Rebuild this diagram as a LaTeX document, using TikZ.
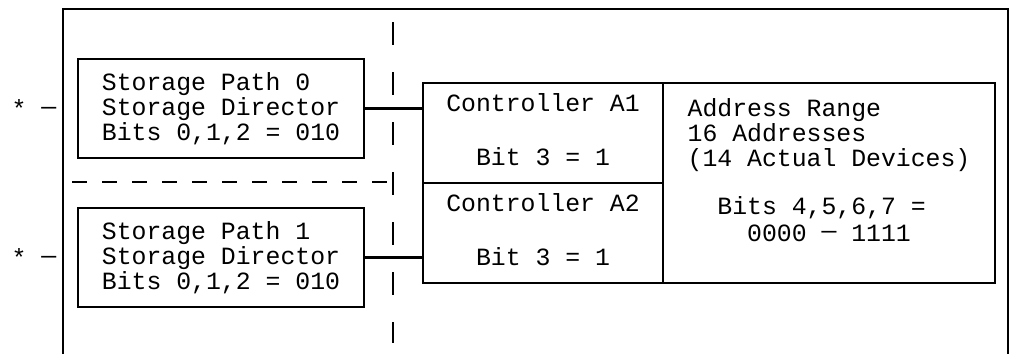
\documentclass[tikz,border=0pt]{standalone}
\usepackage{fontspec}
\setmainfont{Liberation Mono}
\usetikzlibrary{positioning}
\newcommand{\middash}{\raisebox{3pt}{—}}

\begin{document}
\begin{tikzpicture}[x=1pt, y=-1pt,
    every node/.style={font=\fontsize{24.8}{25}\selectfont},
    sdbox/.style={rectangle, draw, line width=2.4pt, outer sep=0pt,
        minimum width=286pt, minimum height=99pt, align=left},
    ctrlbox/.style={rectangle, draw, line width=2.4pt, outer sep=0pt,
        minimum width=240pt, minimum height=100pt, align=center, text depth=7pt},
    rangebox/.style={rectangle, draw, line width=2.4pt, outer sep=0pt,
        minimum width=332pt, minimum height=200pt, align=left},
    pathtag/.style={inner sep=0pt},
    link/.style={line width=2.4pt},
    part/.style={line width=2.2pt},
]
\useasboundingbox (0,0) rectangle (1010,354);

% outer frame, open at the bottom
\draw[line width=2.2pt] (63,354) -- (63,9) -- (1008,9) -- (1008,354);

% partitions
\draw[part, dash pattern=on 23pt off 27pt] (393,22) -- (393,343);
\draw[part, dash pattern=on 15pt off 15pt] (72,182) -- (393,182);

\node[sdbox] (sp0) at (221,108.5) {Storage Path 0\\Storage Director\\Bits 0,1,2 = 010};
\node[sdbox, below=50pt of sp0] (sp1) {Storage Path 1\\Storage Director\\Bits 0,1,2 = 010};
\node[pathtag, left=21.5pt of sp0] (t0) {* \middash};
\node[pathtag, left=21.5pt of sp1] (t1) {* \middash};

\node[ctrlbox] (a1) at (543,133) {Controller A1\\[29pt]Bit 3 = 1};
\node[ctrlbox, below=0pt of a1] (a2) {Controller A2\\[29pt]Bit 3 = 1};
\node[rangebox, anchor=north west] (range) at (a1.north east)
    {Address Range\\16 Addresses\\(14 Actual Devices)\\[23pt]%
     \hspace*{1.2em}Bits 4,5,6,7 =\\[2pt]\hspace*{2.4em}0000 \middash{} 1111\\\mbox{}};

\draw[link] (sp0.east) -- (sp0.east -| a1.west);
\draw[link] (sp1.east) -- (sp1.east -| a2.west);
\end{tikzpicture}
\end{document}
